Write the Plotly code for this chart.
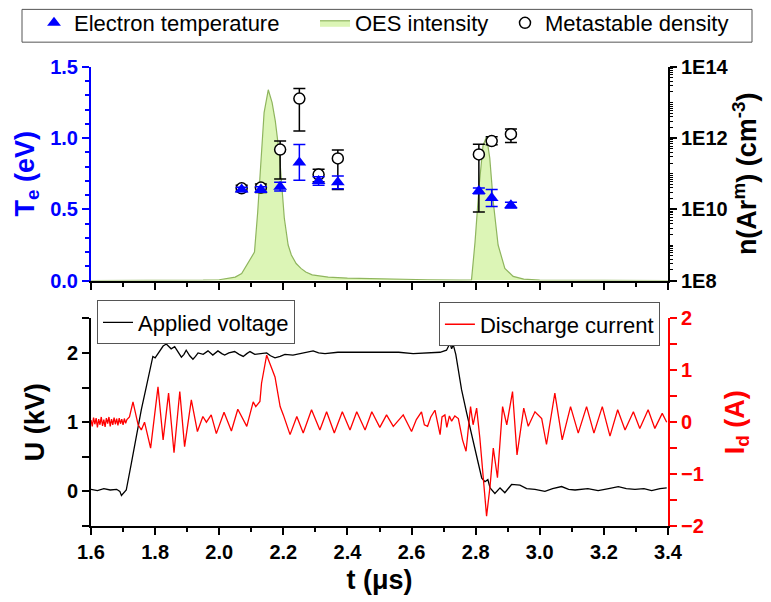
import plotly.graph_objects as go

# ---------------- data ----------------
# top panel: electron temperature and metastable density
t_pts = [2.07, 2.13, 2.19, 2.25, 2.31, 2.37, 2.81, 2.85, 2.91]
te_ev = [0.64, 0.64, 0.66, 0.83, 0.70, 0.69, 0.63, 0.58, 0.53]
te_err = [0.015, 0.02, 0.03, 0.125, 0.03, 0.045, 0.02, 0.06, 0.02]

n_arm = [3.9e10, 4.1e10, 4.8e11, 1.3e13, 9.5e10, 2.7e11, 3.5e11, 8.3e11, 1.3e12]
n_hi = [4.8e10, 5.2e10, 8.3e11, 2.5e13, 1.35e11, 4.7e11, 6.8e11, 1.1e12, 1.8e12]
n_lo = [3.2e10, 3.0e10, 7.1e10, 1.6e12, 6.0e10, 3.6e10, 8.5e9, 6.6e11, 7.6e11]

# OES intensity (arb. units, drawn on the Te scale)
t_oes = [1.6, 1.8, 1.95, 2.0, 2.03, 2.05, 2.07, 2.09, 2.11, 2.12,
         2.13, 2.14, 2.153, 2.165, 2.175, 2.188, 2.203, 2.215, 2.225, 2.24,
         2.255, 2.27, 2.29, 2.34, 2.4, 2.45, 2.55, 2.65, 2.75, 2.787,
         2.798, 2.811, 2.823, 2.834, 2.844, 2.855, 2.87, 2.891, 2.917, 2.95,
         3.0, 3.2, 3.4]
oes = [0.0, 0.0, 0.003, 0.006, 0.015, 0.025, 0.05, 0.13, 0.2, 0.48,
       0.83, 1.18, 1.34, 1.25, 1.12, 0.88, 0.44, 0.25, 0.18, 0.12,
       0.086, 0.06, 0.04, 0.025, 0.018, 0.015, 0.01, 0.006, 0.004, 0.005,
       0.27, 0.67, 0.95, 1.01, 0.86, 0.55, 0.25, 0.086, 0.03, 0.01,
       0.004, 0.002, 0.0]

# bottom panel: applied voltage (kV)
t_u = [1.60, 1.62, 1.64, 1.66, 1.68, 1.69, 1.695, 1.70, 1.71, 1.726,
       1.741, 1.757, 1.773, 1.783, 1.793, 1.80, 1.809, 1.817, 1.825, 1.835,
       1.85, 1.861, 1.871, 1.882, 1.89, 1.897, 1.908, 1.918, 1.926, 1.934,
       1.95, 1.965, 1.98, 1.996, 2.008, 2.017, 2.03, 2.048, 2.062, 2.075,
       2.086, 2.096, 2.111, 2.13, 2.148, 2.16, 2.174, 2.19, 2.205, 2.23,
       2.257, 2.275, 2.293, 2.31, 2.33, 2.37, 2.413, 2.46, 2.517, 2.56,
       2.605, 2.65, 2.689, 2.709, 2.715, 2.72, 2.725, 2.73, 2.738, 2.746,
       2.756, 2.772, 2.792, 2.808, 2.819, 2.829, 2.838, 2.845, 2.86, 2.876,
       2.891, 2.912, 2.938, 2.959, 2.985, 3.016, 3.04, 3.068, 3.09, 3.11,
       3.15, 3.182, 3.215, 3.245, 3.27, 3.297, 3.325, 3.349, 3.375, 3.396]
u_kv = [0.03, 0.01, 0.04, 0.02, 0.03, 0.0, -0.06, -0.03, 0.02, 0.41,
        0.79, 1.18, 1.52, 1.76, 1.95, 1.93, 1.99, 2.05, 2.10, 2.13,
        2.06, 2.09, 2.02, 1.94, 1.98, 2.04, 1.96, 1.91, 1.95, 2.0,
        1.98, 2.03, 1.97, 2.03, 1.99, 1.97, 2.0, 2.02, 1.98, 1.95,
        1.99, 2.02, 1.98, 1.99, 2.0, 1.96, 1.93, 1.95, 1.98, 1.97,
        2.0, 2.01, 2.03, 2.0, 1.99, 2.01, 2.01, 2.0, 2.0, 2.01,
        1.99, 2.0, 2.01, 2.04, 2.1, 2.14, 2.06, 2.12, 1.98, 1.76,
        1.47, 1.13, 0.75, 0.41, 0.19, 0.14, 0.17, 0.05, -0.03, 0.05,
        -0.02, 0.10, 0.09, 0.04, 0.03, 0.0, 0.04, 0.07, 0.03, 0.02,
        0.04, 0.01, 0.04, 0.07, 0.04, 0.03, 0.04, 0.01, 0.04, 0.05]

# bottom panel: discharge current (A)
t_i = [1.600, 1.604, 1.608, 1.612, 1.616, 1.620, 1.624, 1.628, 1.632, 1.636,
       1.640, 1.644, 1.648, 1.652, 1.656, 1.660, 1.664, 1.668, 1.672, 1.676,
       1.680, 1.684, 1.688, 1.692, 1.696, 1.700, 1.704, 1.708, 1.712, 1.720,
       1.731, 1.740, 1.747, 1.757, 1.767, 1.786, 1.809, 1.825, 1.842, 1.859,
       1.877, 1.892, 1.913, 1.932, 1.949, 1.960, 1.975, 1.991, 2.015, 2.038,
       2.058, 2.086, 2.106, 2.114, 2.122, 2.127, 2.132, 2.148, 2.158, 2.174,
       2.190, 2.200, 2.221, 2.242, 2.262, 2.288, 2.314, 2.335, 2.359, 2.384,
       2.408, 2.429, 2.455, 2.476, 2.501, 2.522, 2.543, 2.574, 2.600, 2.615,
       2.631, 2.640, 2.650, 2.660, 2.673, 2.680, 2.689, 2.695, 2.704, 2.710,
       2.718, 2.725, 2.735, 2.746, 2.759, 2.770, 2.777, 2.784, 2.792, 2.803,
       2.813, 2.824, 2.834, 2.845, 2.855, 2.868, 2.884, 2.897, 2.915, 2.929,
       2.950, 2.964, 2.985, 3.006, 3.021, 3.047, 3.070, 3.096, 3.120, 3.146,
       3.169, 3.195, 3.219, 3.243, 3.266, 3.292, 3.312, 3.338, 3.359, 3.382,
       3.396]
i_a = [0.04, -0.08, 0.09, -0.04, 0.08, -0.1, 0.06, -0.05, 0.1, -0.07,
       0.05, -0.09, 0.08, -0.03, 0.1, -0.08, 0.06, -0.05, 0.09, -0.04,
       0.07, -0.06, 0.08, -0.03, 0.06, -0.05, 0.07, -0.02, 0.05, 0.1,
       0.39, 0.15, -0.05, -0.15, 0.0, -0.5, 0.68, -0.34, 0.56, -0.59,
       0.59, -0.47, 0.43, -0.18, 0.11, 0.0, 0.14, -0.22, 0.19, -0.17,
       0.25, -0.08, 0.39, 0.3, 0.36, 0.4, 0.75, 1.29, 1.13, 0.87,
       0.3, 0.14, -0.24, 0.11, -0.21, 0.24, -0.15, 0.2, -0.21, 0.2,
       -0.15, 0.2, -0.15, 0.2, -0.1, 0.14, -0.08, 0.14, -0.18, 0.05,
       0.2, -0.05, -0.08, 0.1, 0.23, 0.0, -0.24, 0.1, 0.14, -0.1,
       0.12, 0.02, 0.12, 0.07, -0.34, -0.56, -0.15, 0.3, -0.05, 0.27,
       -0.3, -1.04, -1.81, -1.23, -0.5, -1.07, 0.3, -0.05, 0.59, -0.63,
       0.27, -0.08, 0.2, 0.07, -0.43, 0.56, -0.34, 0.3, -0.21, 0.3,
       -0.21, 0.3, -0.27, 0.24, -0.15, 0.2, -0.12, 0.24, -0.12, 0.17,
       0.0]

# ---------------- figure ----------------
FONT = "Liberation Sans, Arial, sans-serif"
BLUE = "#0000ff"
RED = "#ff0000"
TOP_DOM = [0.5346, 1.0]
BOT_DOM = [0.0, 0.4524]
TICK_SIZE = 20
TITLE_SIZE = 27
LEG_SIZE = 22
LEG_Y = 23  # px from top of the page (centre of top legend row)

fig = go.Figure()

fig.add_trace(go.Scatter(
    x=t_oes, y=oes, xaxis="x", yaxis="y", mode="lines", name="OES intensity",
    fill="tozeroy", fillcolor="#dcf5b6", line=dict(color="#8fb55e", width=1.2),
    legend="legend4"))

err_plus = [h - v for h, v in zip(n_hi, n_arm)]
err_minus = [v - l for v, l in zip(n_arm, n_lo)]
fig.add_trace(go.Scatter(
    x=t_pts, y=n_arm, xaxis="x", yaxis="y2", mode="markers", name="Metastable density",
    marker=dict(symbol="circle", size=11, color="white", line=dict(color="black", width=1.5)),
    error_y=dict(type="data", array=err_plus, arrayminus=err_minus, color="black",
                 thickness=1.5, width=6),
    legend="legend5"))

fig.add_trace(go.Scatter(
    x=t_pts, y=te_ev, xaxis="x", yaxis="y3", mode="markers", name="Electron temperature",
    marker=dict(symbol="triangle-up", size=12, color=BLUE),
    error_y=dict(type="data", array=te_err, color=BLUE, thickness=1.5, width=6),
    legend="legend"))

fig.add_trace(go.Scatter(
    x=t_u, y=u_kv, xaxis="x2", yaxis="y4", mode="lines", name="Applied voltage",
    line=dict(color="black", width=1.3), legend="legend2"))

fig.add_trace(go.Scatter(
    x=t_i, y=i_a, xaxis="x2", yaxis="y5", mode="lines", name="Discharge current",
    line=dict(color=RED, width=1.3), legend="legend3"))

tickfont = dict(family=FONT, size=TICK_SIZE, weight="bold")
titlefont = dict(family=FONT, size=TITLE_SIZE, weight="bold")


def xaxis_common(**kw):
    d = dict(range=[1.6, 3.4], dtick=0.2, tick0=1.6, tickformat=".1f",
             showline=True, linecolor="black", linewidth=2,
             ticks="outside", ticklen=7, tickwidth=2, tickcolor="black",
             minor=dict(dtick=0.1, ticks="outside", ticklen=4, tickwidth=2, tickcolor="black"),
             showgrid=False, zeroline=False, tickfont=tickfont)
    d.update(kw)
    return d


def top_legend(xc):
    return dict(orientation="h", xref="container", yref="container",
                x=xc / 771, xanchor="left", y=1 - LEG_Y / 602, yanchor="middle",
                borderwidth=0, bgcolor="rgba(0,0,0,0)",
                font=dict(family=FONT, size=LEG_SIZE))


fig.update_layout(
    width=771, height=602,
    margin=dict(l=91, r=103, t=65, b=75),
    paper_bgcolor="white", plot_bgcolor="white",
    font=dict(family=FONT, color="black"),
    xaxis=xaxis_common(anchor="y", showticklabels=False),
    xaxis2=xaxis_common(anchor="y4",
                        title=dict(text="t (\u03bcs)", font=titlefont, standoff=8)),
    yaxis=dict(domain=TOP_DOM, range=[0, 1.5], visible=False, anchor="x"),
    yaxis2=dict(domain=TOP_DOM, type="log", range=[8, 14], overlaying="y", side="right",
                anchor="x", tickvals=[1e8, 1e10, 1e12, 1e14],
                ticktext=["1E8", "1E10", "1E12", "1E14"],
                showline=True, linecolor="black", linewidth=2,
                ticks="outside", ticklen=7, tickwidth=2, tickcolor="black",
                minor=dict(dtick="D1", ticks="outside", ticklen=3, tickwidth=1, tickcolor="black"),
                showgrid=False, zeroline=False, tickfont=tickfont,
                title=dict(text="n(Ar<sup>m</sup>) (cm<sup>-3</sup>)", font=titlefont, standoff=8)),
    yaxis3=dict(domain=TOP_DOM, range=[0, 1.5], overlaying="y", side="left", anchor="x",
                dtick=0.5, tickformat=".1f",
                showline=True, linecolor=BLUE, linewidth=2,
                ticks="outside", ticklen=7, tickwidth=2, tickcolor=BLUE,
                minor=dict(dtick=0.1, ticks="outside", ticklen=4, tickwidth=2, tickcolor=BLUE),
                showgrid=False, zeroline=False,
                tickfont=dict(family=FONT, size=TICK_SIZE, weight="bold", color=BLUE),
                title=dict(text="T<sub>e</sub> (eV)",
                           font=dict(family=FONT, size=TITLE_SIZE, weight="bold", color=BLUE),
                           standoff=8)),
    yaxis4=dict(domain=BOT_DOM, range=[-0.5, 2.5], anchor="x2", side="left",
                dtick=1, tick0=0,
                showline=True, linecolor="black", linewidth=2,
                ticks="outside", ticklen=7, tickwidth=2, tickcolor="black",
                minor=dict(dtick=0.5, tick0=0, ticks="outside", ticklen=7, tickwidth=2, tickcolor="black"),
                showgrid=False, zeroline=False, tickfont=tickfont,
                title=dict(text="U (kV)", font=titlefont, standoff=14)),
    yaxis5=dict(domain=BOT_DOM, range=[-2, 2], overlaying="y4", side="right", anchor="x2",
                dtick=1, tick0=0,
                showline=True, linecolor=RED, linewidth=2,
                ticks="outside", ticklen=7, tickwidth=2, tickcolor=RED,
                minor=dict(dtick=0.5, tick0=0, ticks="outside", ticklen=7, tickwidth=2, tickcolor=RED),
                showgrid=False, zeroline=False,
                tickfont=dict(family=FONT, size=TICK_SIZE, weight="bold", color=RED),
                title=dict(text="I<sub>d</sub> (A)",
                           font=dict(family=FONT, size=TITLE_SIZE, weight="bold", color=RED),
                           standoff=22)),
    legend=top_legend(34),
    legend4=top_legend(315),
    legend5=top_legend(505),
    legend2=dict(x=0.0104, xanchor="left", y=0.4913, yanchor="top",
                 bordercolor="#555555", borderwidth=1, bgcolor="white",
                 font=dict(family=FONT, size=LEG_SIZE)),
    legend3=dict(x=0.986, xanchor="right", y=0.487, yanchor="top",
                 bordercolor="#555555", borderwidth=1, bgcolor="white",
                 font=dict(family=FONT, size=LEG_SIZE)),
    showlegend=True,
    shapes=[dict(type="rect", xref="paper", yref="paper",
                 x0=(22 - 91) / 577, x1=(752 - 91) / 577,
                 y0=(527 - 40) / 462, y1=(527 - 7) / 462,
                 line=dict(color="#555555", width=1), fillcolor="rgba(0,0,0,0)",
                 layer="above")],
)

fig.write_html("out.html", config={"displayModeBar": False},
               post_script="document.body.style.margin='0px';")
